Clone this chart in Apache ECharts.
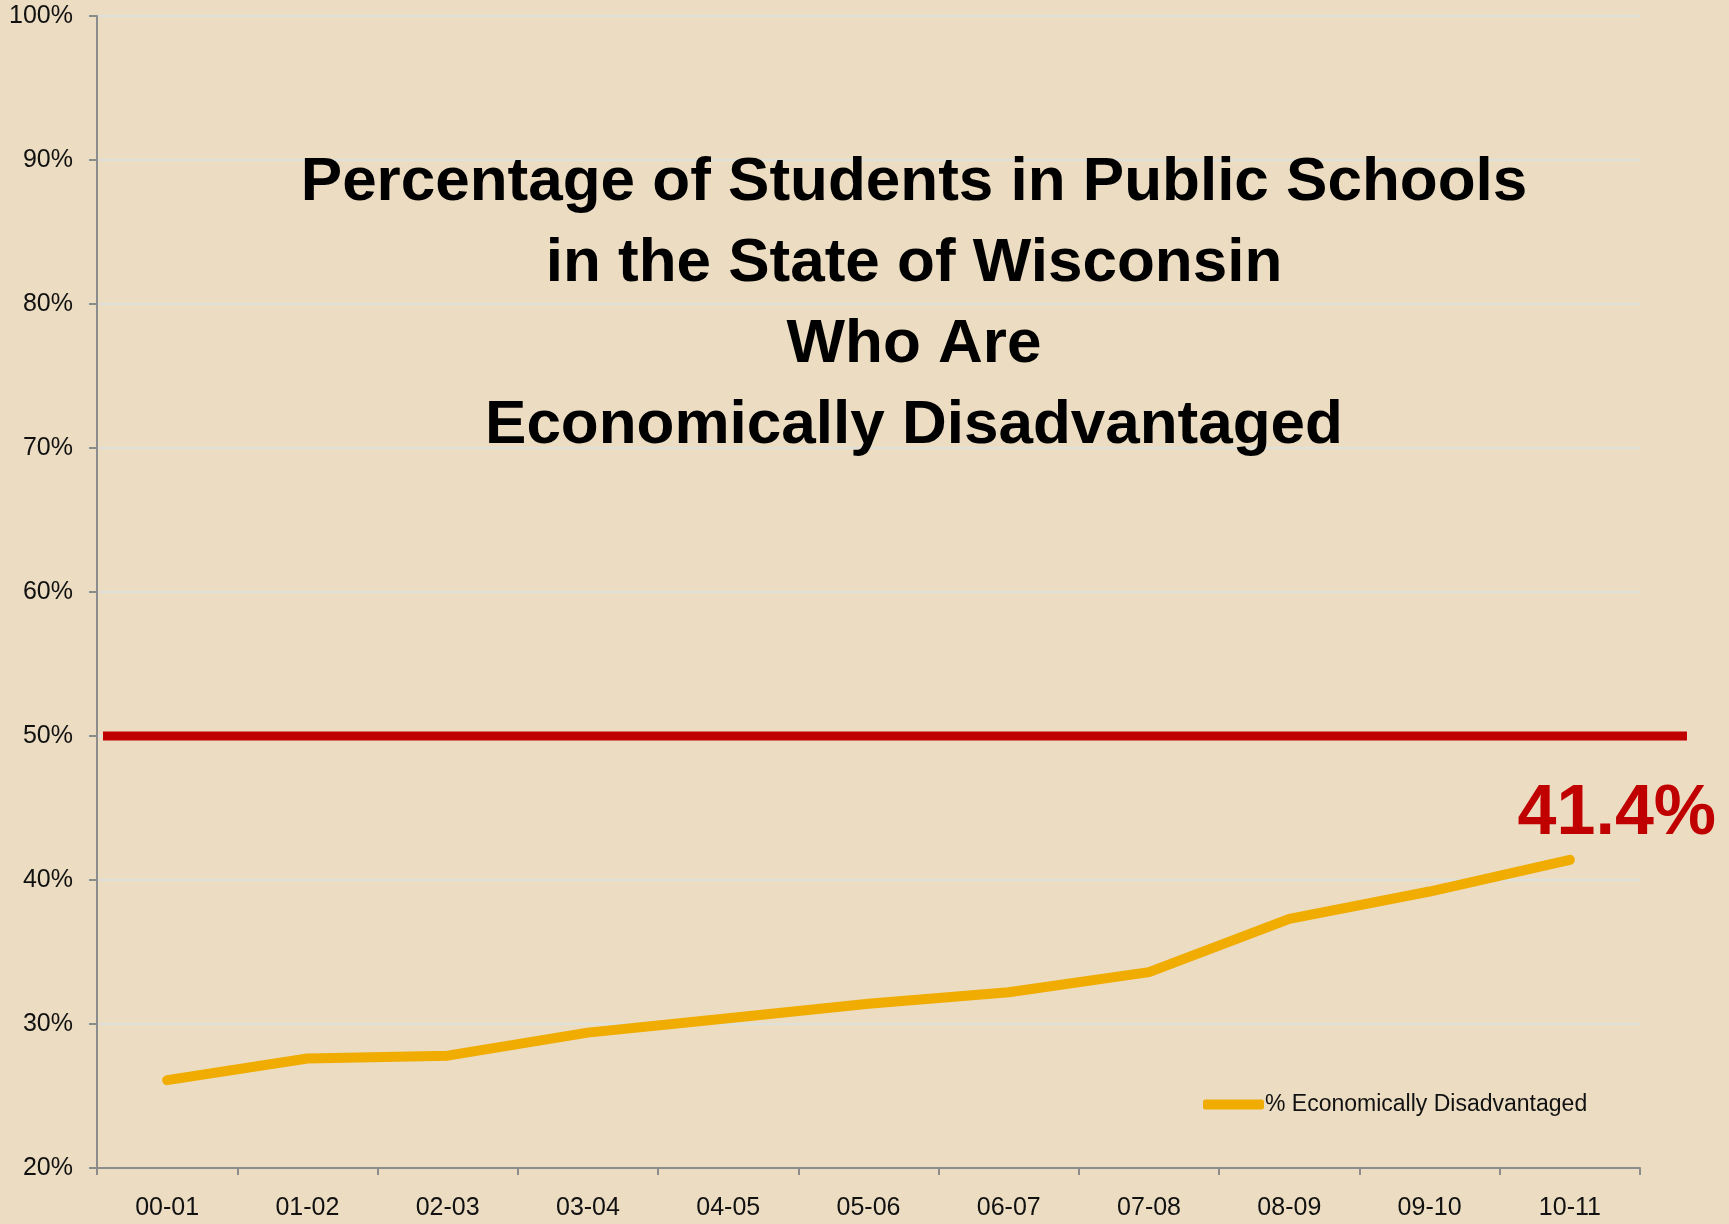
<!DOCTYPE html>
<html>
<head>
<meta charset="utf-8">
<script src="https://cdn.jsdelivr.net/npm/echarts@6/dist/echarts.min.js"></script>
<style>
  html, body { margin: 0; padding: 0; background: #EBDCC2; }
  #chart { width: 1729px; height: 1224px; }
</style>
</head>
<body>
<div id="chart"></div>
<script>
// School years on the horizontal axis
const schoolYears = ['00-01', '01-02', '02-03', '03-04', '04-05', '05-06', '06-07', '07-08', '08-09', '09-10', '10-11'];
// Share of Wisconsin public-school students who are economically disadvantaged (%)
const pctDisadvantaged = [26.1, 27.6, 27.8, 29.4, 30.4, 31.4, 32.2, 33.6, 37.3, 39.2, 41.4];
// Majority benchmark line (%)
const benchmarkPct = 50;
// Vertical axis range and step (%)
const yMin = 20, yMax = 100, yStep = 10;

const seriesName = '% Economically Disadvantaged';
const titleText = 'Percentage of Students in Public Schools\nin the State of Wisconsin\nWho Are\nEconomically Disadvantaged';

const FONT = '"Liberation Sans", Arial, sans-serif';
const lastIdx = pctDisadvantaged.length - 1;

// Only the latest year carries a (tiny) symbol so its value label can be drawn
const lineData = pctDisadvantaged.map((v, i) => i === lastIdx ? {
  value: v,
  symbol: 'circle',
  symbolSize: 1,
  label: {
    show: true,
    position: 'inside',
    offset: [47, -45],
    formatter: p => p.value.toFixed(1) + '%',
    color: '#C00000',
    fontFamily: FONT,
    fontWeight: 'bold',
    fontSize: 70
  }
} : { value: v, symbol: 'none' });

const chart = echarts.init(document.getElementById('chart'), null, { renderer: 'canvas' });
chart.setOption({
  backgroundColor: '#EBDCC2',
  animation: false,
  title: {
    text: titleText,
    left: 909,
    top: 137,
    textAlign: 'center',
    textStyle: {
      fontFamily: FONT,
      fontWeight: 'bold',
      fontSize: 62,
      lineHeight: 81,
      color: '#000'
    }
  },
  legend: {
    data: [{ name: seriesName, icon: 'roundRect' }],
    left: 1198,
    top: 1088,
    itemWidth: 61,
    itemHeight: 10,
    textStyle: { fontFamily: FONT, fontSize: 23, color: '#111', padding: [0, 0, 0, -4] }
  },
  grid: [
    { left: 97, right: 89, top: 16, bottom: 56, containLabel: false },
    { left: 103, right: 42, top: 16, bottom: 56, containLabel: false }
  ],
  xAxis: [
    {
      type: 'category',
      gridIndex: 0,
      data: schoolYears,
      boundaryGap: true,
      axisLine: { lineStyle: { color: '#8c8c8c', width: 2 } },
      axisTick: { show: true, length: 7, lineStyle: { color: '#8c8c8c', width: 2 } },
      axisLabel: { fontFamily: FONT, fontSize: 25, color: '#111', margin: 28 },
      splitLine: { show: false }
    },
    {
      type: 'value',
      gridIndex: 1,
      min: 0,
      max: 1,
      show: false
    }
  ],
  yAxis: [
    {
      type: 'value',
      gridIndex: 0,
      min: yMin,
      max: yMax,
      interval: yStep,
      axisLine: { show: true, lineStyle: { color: '#8c8c8c', width: 2 } },
      axisTick: { show: true, length: 8, lineStyle: { color: '#8c8c8c', width: 2 } },
      axisLabel: { fontFamily: FONT, fontSize: 25, color: '#111', margin: 24, formatter: '{value}%' },
      splitLine: { show: true, lineStyle: { color: '#dfe2dc', width: 2 } }
    },
    {
      type: 'value',
      gridIndex: 1,
      min: yMin,
      max: yMax,
      show: false
    }
  ],
  series: [
    {
      name: 'Benchmark',
      type: 'line',
      xAxisIndex: 1,
      yAxisIndex: 1,
      data: [[0, benchmarkPct], [1, benchmarkPct]],
      showSymbol: false,
      symbol: 'none',
      silent: true,
      lineStyle: { color: '#C00000', width: 9, cap: 'butt' },
      z: 3
    },
    {
      name: seriesName,
      type: 'line',
      xAxisIndex: 0,
      yAxisIndex: 0,
      data: lineData,
      showSymbol: true,
      itemStyle: { color: '#F0AC00' },
      lineStyle: { color: '#F0AC00', width: 10, cap: 'round', join: 'round' },
      z: 4
    }
  ]
});
</script>
</body>
</html>
